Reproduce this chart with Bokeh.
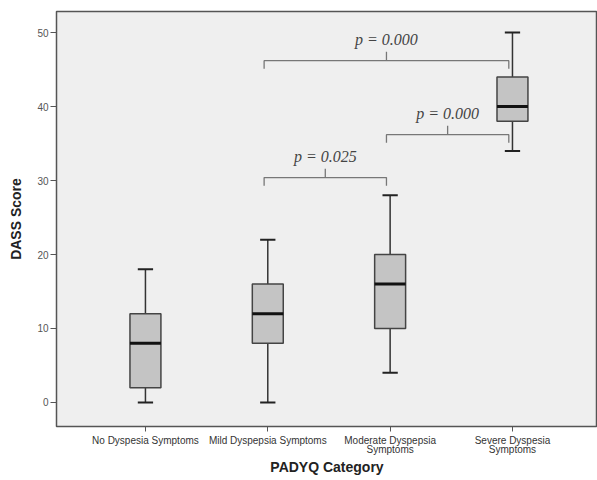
from bokeh.plotting import figure
from bokeh.models import FixedTicker, Range1d, ColumnDataSource
from bokeh.embed import file_html
from bokeh.resources import INLINE
from bokeh.core.properties import value

categories = ["No Dyspesia Symptoms", "Mild Dyspepsia Symptoms",
              "Moderate Dyspepsia\nSymptoms", "Severe Dyspesia\nSymptoms"]
whisker_low = [0, 0, 4, 34]
q1 = [2, 8, 10, 38]
median = [8, 12, 16, 40]
q3 = [12, 16, 20, 44]
whisker_high = [18, 22, 28, 50]

# comparison brackets: (from group, to group, y level, label)
bracket_from = [2, 3, 2]
bracket_to = [4, 4, 3]
bracket_y = [46.2, 36.2, 30.4]
bracket_label = ["p = 0.000", "p = 0.000", "p = 0.025"]

y_ticks = [0, 10, 20, 30, 40, 50]

xs = list(range(1, len(categories) + 1))

p = figure(width=597, height=478, output_backend="svg", toolbar_location=None,
           x_range=Range1d(0.273, 4.695), y_range=Range1d(-3.25, 52.85),
           min_border_left=56, min_border_top=11, min_border_right=0, min_border_bottom=0)
p.background_fill_color = "#efefef"
p.border_fill_color = "white"
p.outline_line_color = "#555555"
p.outline_line_width = 1.5
p.grid.visible = False

box_w = 0.253
cap_w = 0.125

src = ColumnDataSource(dict(x=xs, lo=whisker_low, q1=q1, med=median, q3=q3, hi=whisker_high,
                            bl=[x - box_w / 2 for x in xs], br=[x + box_w / 2 for x in xs],
                            cl=[x - cap_w / 2 for x in xs], cr=[x + cap_w / 2 for x in xs]))
# whiskers
p.segment(x0="x", y0="lo", x1="x", y1="q1", source=src, line_color="#333333", line_width=1.5)
p.segment(x0="x", y0="q3", x1="x", y1="hi", source=src, line_color="#333333", line_width=1.5)
p.segment(x0="cl", y0="lo", x1="cr", y1="lo", source=src, line_color="#222222", line_width=2)
p.segment(x0="cl", y0="hi", x1="cr", y1="hi", source=src, line_color="#222222", line_width=2)
# boxes
p.vbar(x="x", bottom="q1", top="q3", width=box_w, source=src,
       fill_color="#c4c4c4", line_color="#444444", line_width=1.5)
p.segment(x0="bl", y0="med", x1="br", y1="med", source=src, line_color="#111111", line_width=3)

# brackets
off = -0.03
for a, b, y, lab in zip(bracket_from, bracket_to, bracket_y, bracket_label):
    x0 = a + off
    x1 = b + off
    xm = (x0 + x1) / 2
    p.line([x0, x0, x1, x1], [y - 1.1, y, y, y - 1.1], line_color="#777777", line_width=1.3)
    p.line([xm, xm], [y, y + 1.2], line_color="#777777", line_width=1.3)
    p.text(x=[xm], y=[y + 2.9], text=[lab], text_align="center", text_baseline="middle",
           text_font=value("Liberation Serif"), text_font_style="italic",
           text_font_size="16px", text_color="#444444")

# axes
p.yaxis.ticker = FixedTicker(ticks=y_ticks)
p.yaxis.minor_tick_line_color = None
p.yaxis.major_tick_out = 6
p.yaxis.major_tick_in = 0
p.yaxis.major_label_standoff = 2
p.yaxis.axis_line_color = "#555555"
p.yaxis.major_tick_line_color = "#555555"
p.yaxis.major_label_text_font = "Liberation Sans"
p.yaxis.major_label_text_font_size = "10px"
p.yaxis.major_label_text_color = "#555555"
p.yaxis.axis_label = "DASS Score"
p.yaxis.axis_label_text_font = "Liberation Sans"
p.yaxis.axis_label_text_font_style = "bold"
p.yaxis.axis_label_text_font_size = "14px"
p.yaxis.axis_label_text_color = "#222222"
p.yaxis.axis_label_standoff = 10

p.xaxis.ticker = FixedTicker(ticks=xs)
p.xaxis.major_label_overrides = {x: c for x, c in zip(xs, categories)}
p.xaxis.minor_tick_line_color = None
p.xaxis.major_tick_out = 5
p.xaxis.major_tick_in = 0
p.xaxis.major_label_standoff = 3
p.xaxis.axis_line_color = "#555555"
p.xaxis.major_tick_line_color = "#555555"
p.xaxis.major_label_text_font = "Liberation Sans"
p.xaxis.major_label_text_font_size = "10px"
p.xaxis.major_label_text_color = "#333333"
p.xaxis.major_label_text_line_height = 0.9
p.xaxis.axis_label = "PADYQ Category"
p.xaxis.axis_label_text_font = "Liberation Sans"
p.xaxis.axis_label_text_font_style = "bold"
p.xaxis.axis_label_text_font_size = "14px"
p.xaxis.axis_label_text_color = "#222222"
p.xaxis.axis_label_standoff = 1

open("out.html", "w").write(file_html(p, INLINE))
